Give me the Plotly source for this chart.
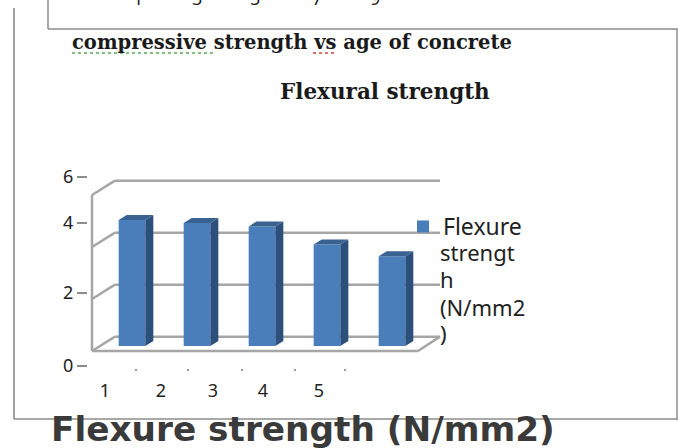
import plotly.graph_objects as go

categories = [1, 2, 3, 4, 5]
values = [4.85, 4.73, 4.6, 3.9, 3.45]
series_name = "Flexure"
legend_rest = ["strengt", "h", "(N/mm2", ")"]
y_tick_labels = ["0", "2", "4", "6"]
x_tick_labels = ["1", "2", "3", "4", "5"]
grid_values = [0, 2, 4, 6]
cropped_top_labels = ["1", "3", "5", "7", "9"]

W, H = 678, 448
PX_X = 65.0   # pixels per category
PX_Y = 26.0   # pixels per unit
X0_PX, Y0_PX = 132.0, 346.0
L, R, T, B = 88, 445, 170, 368

def xv(px): return (px - X0_PX) / PX_X + 1
def yv(px): return (Y0_PX - px) / PX_Y

BAR_W = 0.41
DX = 8 / PX_X
DY = 5 / PX_Y
GRID = "#a6a6a6"
FRONT, SIDE, TOP = "#4a7ebb", "#2d4f7c", "#38628f"

fig = go.Figure()
fig.add_trace(go.Bar(x=categories, y=values, width=BAR_W, name=series_name,
                     marker=dict(color=FRONT, line=dict(width=0)), showlegend=True))
for c, v in zip(categories, values):
    r = c + BAR_W / 2
    l = c - BAR_W / 2
    fig.add_trace(go.Scatter(x=[r, r + DX, r + DX, r, r], y=[0, DY, v + DY, v, 0], mode="lines",
                             fill="toself", fillcolor=SIDE, line=dict(width=0), showlegend=False, hoverinfo="skip"))
    fig.add_trace(go.Scatter(x=[l, l + DX, r + DX, r, l], y=[v, v + DY, v + DY, v, v], mode="lines",
                             fill="toself", fillcolor=TOP, line=dict(width=0), showlegend=False, hoverinfo="skip"))

shapes = []
def gridline(x0, y0, x1, y1):
    shapes.append(dict(type="line", xref="x", yref="y", x0=x0, y0=y0, x1=x1, y1=y1,
                       line=dict(color=GRID, width=2.5), layer="below"))
WALL_L, WALL_B, WALL_R = xv(92), xv(115), xv(440)
FRONT_OFF, BACK_OFF = -0.19, 0.36
for g in grid_values:
    gridline(WALL_B, g + BACK_OFF, WALL_R, g + BACK_OFF)
    gridline(WALL_L, g + FRONT_OFF, WALL_B, g + BACK_OFF)
gridline(WALL_L, 0 + FRONT_OFF, WALL_L, 6 + FRONT_OFF)
gridline(WALL_L, 0 + FRONT_OFF, xv(418), 0 + FRONT_OFF)
gridline(xv(418), 0 + FRONT_OFF, WALL_R, 0 + BACK_OFF)

def frame(x0, y0, x1, y1, color="#8c8c8c", width=1.5, dash="solid"):
    shapes.append(dict(type="line", xref="paper", yref="paper", x0=x0 / W, x1=x1 / W,
                       y0=1 - y0 / H, y1=1 - y1 / H, line=dict(color=color, width=width, dash=dash), layer="below"))
frame(48, 0, 48, 29)
frame(48, 29, 678, 29)
frame(677, 29, 677, 420)
frame(14, 8, 14, 419, color="#a0a0a0", width=2)
frame(14, 419, 677, 419)
frame(72, 53, 214, 53, color="#5aa85a", width=1.5, dash="dot")
frame(313, 53, 337, 53, color="#d84040", width=1.5, dash="dot")

def label(text, x, y, size, family, color="#1a1a1a", bold=True, anchor="left"):
    return dict(text=f"<b>{text}</b>" if bold else text, xref="paper", yref="paper",
                x=x / W, y=1 - y / H, xanchor=anchor, yanchor="middle", showarrow=False,
                borderpad=0, font=dict(size=size, family=family, color=color))

annotations = [
    label("compressive strength vs age of concrete", 71, 42, 19.5, "DejaVu Serif"),
    label("Flexural strength", 279, 91, 21.5, "DejaVu Serif"),
    label("Flexure strength (N/mm2)", 50, 429, 34.3, "DejaVu Sans", color="#3a3a3a"),
]
for txt, py in zip(legend_rest, (252, 279, 307, 333)):
    annotations.append(label(txt, 439, py, 22, "Noto Sans", color="#222222", bold=False))
for txt, px in zip(cropped_top_labels, (138, 197, 255, 317, 375)):
    annotations.append(label(txt, px, -2, 18, "Noto Sans", color="#222222", bold=False, anchor="center"))

fig.update_layout(
    width=W, height=H, autosize=False,
    margin=dict(l=0, r=0, t=0, b=0, autoexpand=False),
    paper_bgcolor="white", plot_bgcolor="rgba(0,0,0,0)",
    shapes=shapes, annotations=annotations,
    legend=dict(x=403 / W, y=1 - 205 / H, xanchor="left", yanchor="top",
                bgcolor="rgba(0,0,0,0)", font=dict(size=23, family="Noto Sans", color="#222222"),
                itemwidth=30),
    xaxis=dict(domain=[L / W, R / W], range=[xv(L), xv(R)], showgrid=False, zeroline=False, showline=False,
               tickmode="array", tickvals=[xv(p) for p in (105, 161, 213, 263, 319)], ticktext=x_tick_labels,
               ticks="", ticklabelstandoff=10, tickfont=dict(size=18, family="Noto Sans", color="#222222"),
               minor=dict(tickmode="array", tickvals=[xv(p) for p in (136, 188, 242, 295, 345)],
                          ticks="outside", ticklen=2, tickcolor="#999999", tickwidth=1.5)),
    yaxis=dict(domain=[1 - B / H, 1 - T / H], range=[yv(B), yv(T)], showgrid=False, zeroline=False, showline=False,
               tickmode="array", tickvals=[yv(p) for p in (366, 293, 223, 177)], ticktext=y_tick_labels,
               ticks="outside", ticklen=10, tickcolor="#8c8c8c", tickwidth=1.5,
               tickfont=dict(size=18, family="Noto Sans", color="#222222")),
)
fig.write_html("out.html", config=dict(displayModeBar=False),
               post_script="document.body.style.margin='0';document.documentElement.style.overflow='hidden';")
